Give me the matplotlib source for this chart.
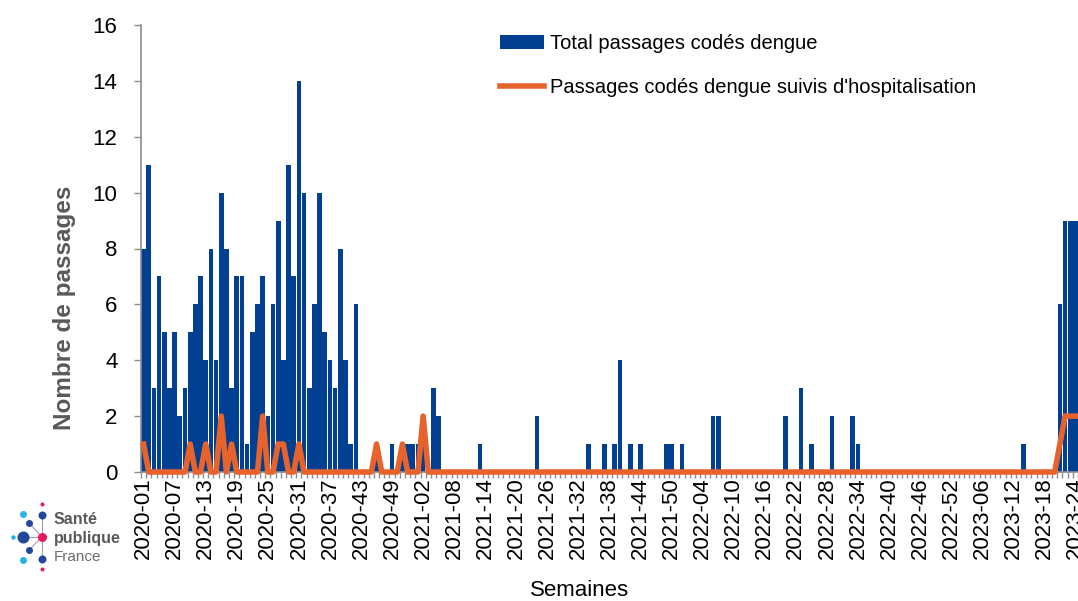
import matplotlib
matplotlib.use("Agg")
import matplotlib.pyplot as plt
import numpy as np

plt.rcParams['font.family'] = ['Liberation Sans', 'DejaVu Sans']

# weekly counts, one list per year (ISO weeks)
weeks_per_year = {2020: 53, 2021: 52, 2022: 52, 2023: 24}

total_2020 = [8, 11, 3, 7, 5, 3, 5, 2, 3, 5,
              6, 7, 4, 8, 4, 10, 8, 3, 7, 7,
              1, 5, 6, 7, 2, 6, 9, 4, 11, 7,
              14, 10, 3, 6, 10, 5, 4, 3, 8, 4,
              1, 6, 0, 0, 0, 1, 0, 0, 1, 0,
              1, 1, 1]
total_2021 = [1, 2, 0, 3, 2, 0, 0, 0, 0, 0,
              0, 0, 1, 0, 0, 0, 0, 0, 0, 0,
              0, 0, 0, 2, 0, 0, 0, 0, 0, 0,
              0, 0, 0, 1, 0, 0, 1, 0, 1, 4,
              0, 1, 0, 1, 0, 0, 0, 0, 1, 1,
              0, 1]
total_2022 = [0, 0, 0, 0, 0, 2, 2, 0, 0, 0,
              0, 0, 0, 0, 0, 0, 0, 0, 0, 2,
              0, 0, 3, 0, 1, 0, 0, 0, 2, 0,
              0, 0, 2, 1, 0, 0, 0, 0, 0, 0,
              0, 0, 0, 0, 0, 0, 0, 0, 0, 0,
              0, 0]
total_2023 = [0, 0, 0, 0, 0, 0, 0, 0, 0, 0,
              0, 0, 0, 1, 0, 0, 0, 0, 0, 0,
              6, 9, 9, 9]

hosp_2020 = [1, 0, 0, 0, 0, 0, 0, 0, 0, 1,
             0, 0, 1, 0, 0, 2, 0, 1, 0, 0,
             0, 0, 0, 2, 0, 0, 1, 1, 0, 0,
             1, 0, 0, 0, 0, 0, 0, 0, 0, 0,
             0, 0, 0, 0, 0, 1, 0, 0, 0, 0,
             1, 0, 0]
hosp_2021 = [0, 2, 0, 0, 0, 0, 0, 0, 0, 0,
             0, 0, 0, 0, 0, 0, 0, 0, 0, 0,
             0, 0, 0, 0, 0, 0, 0, 0, 0, 0,
             0, 0, 0, 0, 0, 0, 0, 0, 0, 0,
             0, 0, 0, 0, 0, 0, 0, 0, 0, 0,
             0, 0]
hosp_2022 = [0, 0, 0, 0, 0, 0, 0, 0, 0, 0,
             0, 0, 0, 0, 0, 0, 0, 0, 0, 0,
             0, 0, 0, 0, 0, 0, 0, 0, 0, 0,
             0, 0, 0, 0, 0, 0, 0, 0, 0, 0,
             0, 0, 0, 0, 0, 0, 0, 0, 0, 0,
             0, 0]
hosp_2023 = [0, 0, 0, 0, 0, 0, 0, 0, 0, 0,
             0, 0, 0, 0, 0, 0, 0, 0, 0, 0,
             1, 2, 2, 2]

totals = total_2020 + total_2021 + total_2022 + total_2023
hosp = hosp_2020 + hosp_2021 + hosp_2022 + hosp_2023
week_labels = [f"{y}-{w:02d}" for y, n in weeks_per_year.items() for w in range(1, n + 1)]

BLUE = '#003f91'
ORANGE = '#e8632b'
GREY = '#8c8c8c'

fig = plt.figure(figsize=(10.78, 6.01), dpi=100)
ax = fig.add_axes([141/1078, 1-472/601, 937/1078, 447/601])

x = np.arange(len(totals))
bars = ax.bar(x, totals, width=0.9, color=BLUE, linewidth=0, zorder=2,
              label='Total passages codés dengue')
line, = ax.plot(x, hosp, color=ORANGE, lw=4, zorder=3, clip_on=False,
                solid_joinstyle='round', label="Passages codés dengue suivis d'hospitalisation")

ax.set_xlim(-0.5, len(x) - 0.5)
ax.set_ylim(0, 16)
ax.set_yticks(range(0, 17, 2))
ax.set_xticks(x[::6])
ax.set_xticklabels(week_labels[::6], rotation=90, fontsize=16)
ax.set_xticks(np.arange(-0.5, len(x), 1), minor=True)
ax.tick_params(axis='x', which='major', length=0, pad=4)
ax.tick_params(axis='x', which='minor', length=4, color=GREY, width=1)
ax.tick_params(axis='y', length=5, color=GREY, width=1, pad=12, labelsize=16)

for s in ['top', 'right']:
    ax.spines[s].set_visible(False)
for s in ['left', 'bottom']:
    ax.spines[s].set_color(GREY)
    ax.spines[s].set_linewidth(1.2)

ax.legend(handles=[bars, line], loc='upper left',
          bbox_to_anchor=((500-141)/937, (472-34)/447),
          frameon=False, fontsize=14.5, handlelength=2.2, handletextpad=0.3,
          labelspacing=1.25, borderaxespad=0, borderpad=0)

fig.text(65/1078, 1-308/601, 'Nombre de passages', rotation=90, ha='center',
         va='center', fontsize=17.5, fontweight='bold', color='#595959')
fig.text(580/1078, 1-590/601, 'Semaines', ha='center', va='center', fontsize=16)

# Santé publique France logo (pixel coordinates)
lax = fig.add_axes([0, 0, 1, 1], zorder=-1)
lax.set_xlim(0, 1078)
lax.set_ylim(601, 0)
lax.axis('off')
logo_lines = [((22.7, 41.7), (537, 537)), ((41.7, 41.7), (515, 559)),
              ((29.3, 41.7), (523, 537)), ((29.3, 41.7), (550, 537))]
for lx, ly in logo_lines:
    lax.plot(lx, ly, color='#a0a0a0', lw=0.8)
logo_dots = [(41.7, 504, 4, '#e6175c'), (22.7, 514, 7, '#29b4e8'),
             (41.7, 515, 8, '#23489a'), (29.3, 523, 7, '#23489a'),
             (12.7, 537, 4.5, '#29b4e8'), (22.7, 537, 12, '#23489a'),
             (41.7, 537, 9, '#e6175c'), (29.3, 550, 7, '#23489a'),
             (22.7, 560, 7, '#29b4e8'), (41.7, 559, 8, '#23489a'),
             (41.7, 569, 4, '#e6175c')]
for dx, dy, d, c in logo_dots:
    lax.scatter([dx], [dy], s=(d*0.72)**2, color=c, linewidths=0, zorder=3)
lax.text(54, 520, 'Santé', fontsize=11.5, fontweight='bold', color='#58595b',
         va='center', ha='left')
lax.text(54, 538, 'publique', fontsize=11.5, fontweight='bold', color='#58595b',
         va='center', ha='left')
lax.text(54, 557, 'France', fontsize=11, color='#6d6e71',
         va='center', ha='left')

fig.savefig('out.png', dpi=100)
